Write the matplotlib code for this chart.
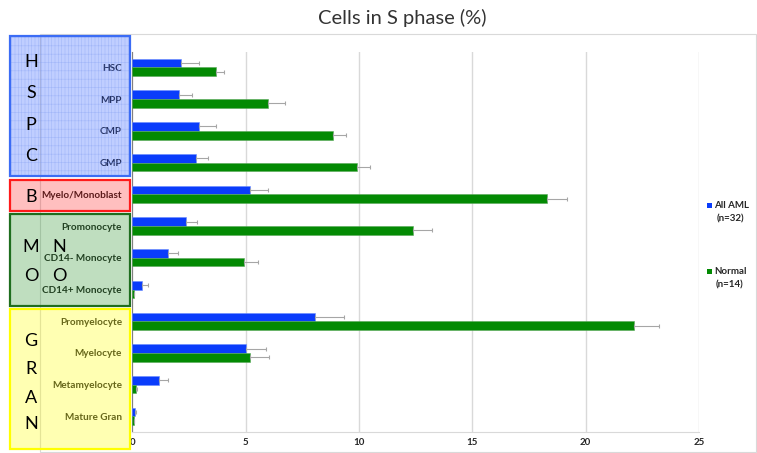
import numpy as np
import matplotlib
matplotlib.use("Agg")
import matplotlib.pyplot as plt
from matplotlib.patches import Rectangle

plt.rcParams['font.family'] = ['Lato', 'DejaVu Sans']
plt.rcParams['hatch.linewidth'] = 0.4

categories = ["HSC", "MPP", "CMP", "GMP", "Myelo/Monoblast", "Promonocyte",
              "CD14- Monocyte", "CD14+ Monocyte", "Promyelocyte", "Myelocyte",
              "Metamyelocyte", "Mature Gran"]
aml = [2.15, 2.06, 2.94, 2.79, 5.21, 2.37, 1.56, 0.44, 8.05, 5.03, 1.16, 0.12]
aml_err = [0.78, 0.59, 0.74, 0.53, 0.76, 0.47, 0.44, 0.24, 1.31, 0.87, 0.41, 0.03]
normal = [3.70, 5.97, 8.85, 9.90, 18.29, 12.37, 4.94, 0.07, 22.12, 5.19, 0.16, 0.06]
normal_err = [0.33, 0.78, 0.56, 0.57, 0.88, 0.87, 0.59, 0.02, 1.13, 0.82, 0.04, 0.02]
xticks = [0, 5, 10, 15, 20, 25]
legend_labels = ["All AML\n(n=32)", "Normal\n(n=14)"]

W, H = 757, 453
BLUE = "#0a3cfb"
GREEN = "#038a03"

fig = plt.figure(figsize=(W / 100, H / 100), dpi=100)
ax = fig.add_axes([132.3 / W, 1 - 432.3 / H, (699 - 132.3) / W, (432.3 - 51.5) / H])

y = np.arange(len(categories))
h = 0.275
err_style = dict(ecolor="#a6a6a6", elinewidth=0.8, capsize=1.2, capthick=0.8)
ax.barh(y - h / 2, aml, height=h, color=BLUE, edgecolor="#6a8cff", linewidth=0.4,
        xerr=[np.zeros(len(aml)), aml_err], error_kw=err_style, zorder=3)
ax.barh(y + h / 2, normal, height=h, color=GREEN, edgecolor="#5aa85a", linewidth=0.4,
        xerr=[np.zeros(len(normal)), normal_err], error_kw=err_style, zorder=3)

ax.set_ylim(len(categories) - 0.5, -0.5)
ax.set_xlim(0, 25)
ax.set_xticks(xticks)
ax.set_xticklabels([str(t) for t in xticks], fontsize=7, fontweight="bold", color="#262626")
ax.set_yticks(y)
ax.set_yticklabels(categories, fontsize=7.2, fontweight="bold", color="#262626")
ax.tick_params(axis="both", length=0)
ax.tick_params(axis="y", pad=7.5)
ax.tick_params(axis="x", pad=4)
ax.grid(axis="x", color="#d9d9d9", linewidth=1)
ax.set_axisbelow(True)
for side in ["top", "right"]:
    ax.spines[side].set_visible(False)
ax.spines["left"].set_color("#808080")
ax.spines["bottom"].set_color("#d9d9d9")


def rect(x0, y0, x1, y1, **kw):
    return Rectangle((x0 / W, 1 - y1 / H), (x1 - x0) / W, (y1 - y0) / H,
                     transform=fig.transFigure, **kw)


def label(x, y, s, **kw):
    fig.text(x / W, 1 - y / H, s, ha="center", va="center", **kw)


# chart frame
fig.add_artist(rect(40, 34, 756, 452, fill=False, edgecolor="#d9d9d9", linewidth=0.8, zorder=1))

fig.text(402 / W, 1 - 18 / H, "Cells in S phase (%)", ha="center", va="center",
         fontsize=14.5, color="#333333")

# group boxes laid over the category labels
groups = [
    ((10, 35.7, 130, 176), "#2050ff", "#3b6cf5", 0.28),
    ((10, 180, 130, 211), "#ff0000", "#ff1a1a", 0.25),
    ((10, 214.3, 130, 305.7), "#1a8a1a", "#1e6e1e", 0.28),
    ((10, 309, 130, 449), "#ffff00", "#ffff00", 0.3),
]
for (x0, y0, x1, y1), fill, edge, alpha in groups:
    fig.add_artist(rect(x0, y0, x1, y1, facecolor=fill, edgecolor="none", alpha=alpha, zorder=5))
    fig.add_artist(rect(x0, y0, x1, y1, fill=False, edgecolor=edge, linewidth=1.6, zorder=6))
fig.add_artist(rect(11, 36.7, 129, 175, facecolor="none", edgecolor="#7f9bf0", hatch="|||||--",
                    linewidth=0, alpha=0.45, zorder=5))

big = dict(fontsize=13, color="black", zorder=7)
for ch, yy in zip("HSPC", [62, 93, 125, 156]):
    label(31, yy, ch, **big)
label(31, 197, "B", **big)
for ch, xx, yy in [("M", 31, 247), ("N", 59, 247), ("O", 31, 276), ("O", 59, 276)]:
    label(xx, yy, ch, **big)
for ch, yy in zip("GRAN", [341, 369, 398, 424]):
    label(31, yy, ch, **big)

# legend
for (ly, text), color in zip([(205.5, legend_labels[0]), (271.3, legend_labels[1])], [BLUE, GREEN]):
    fig.add_artist(rect(706.5, ly - 2.7, 712, ly + 2.7, facecolor=color, edgecolor="none", zorder=4))
    first, second = text.split("\n")
    fig.text(714.5 / W, 1 - ly / H, first, ha="left", va="center", fontsize=7,
             fontweight="bold", color="#262626")
    fig.text(730 / W, 1 - (ly + 13.5) / H, second, ha="center", va="center", fontsize=7,
             fontweight="bold", color="#262626")

fig.savefig("out.png", dpi=100)
